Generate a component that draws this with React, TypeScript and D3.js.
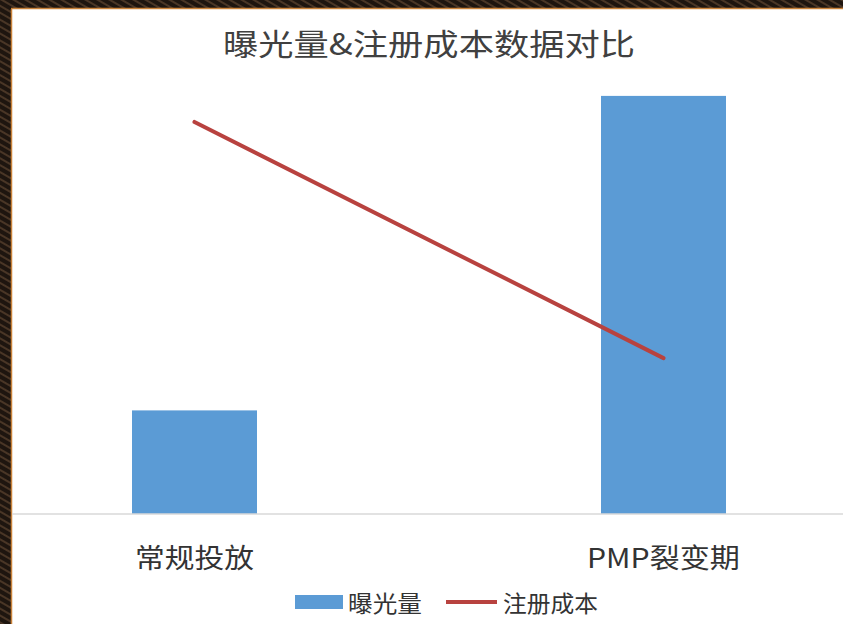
import React from "react";
import * as d3 from "d3";

const categories = ["常规投放", "PMP裂变期"];
const exposure = [2800, 11300];
const regCost = [8.83, 3.51];
const titleText = "曝光量&注册成本数据对比";
const legendLabels = ["曝光量", "注册成本"];

const W = 843;
const H = 624;
const FONT = "'Noto Sans CJK SC', 'Noto Sans', sans-serif";

export default function App() {
  const x = d3.scalePoint<string>().domain(categories).range([194.5, 663.5]);
  const yBar = d3.scaleLinear().domain([0, 12000]).range([514, 70]);
  const yLine = d3.scaleLinear().domain([0, 10]).range([514, 70]);
  const barW = 125;
  const line = d3
    .line<number>()
    .x((_, i) => x(categories[i]) as number)
    .y((d) => yLine(d));

  return (
    <svg
      width={W}
      height={H}
      style={{ position: "absolute", left: 0, top: 0, display: "block" }}
    >
      <defs>
        <pattern id="tex" width="6" height="6" patternUnits="userSpaceOnUse" patternTransform="rotate(-60)">
          <rect width="6" height="6" fill="#1e150f" />
          <rect width="2" height="6" fill="#4a3626" />
        </pattern>
      </defs>
      <rect x={0} y={0} width={W} height={H} fill="url(#tex)" />
      <rect x={12} y={9} width={W - 12} height={H - 9} fill="#ffffff" />
      <line x1={11.5} y1={9} x2={11.5} y2={H} stroke="#c9823a" strokeWidth={1.5} />
      <line x1={11} y1={8.5} x2={W} y2={8.5} stroke="#c9823a" strokeWidth={1.5} />

      <text
        x={429}
        y={41.5}
        textAnchor="middle"
        dominantBaseline="central"
        fontFamily={FONT}
        fontSize={30}
        fill="#404040"
        textLength={412}
        lengthAdjust="spacingAndGlyphs"
      >
        {titleText}
      </text>

      {exposure.map((v, i) => (
        <rect
          key={i}
          x={(x(categories[i]) as number) - barW / 2}
          y={yBar(v)}
          width={barW}
          height={yBar(0) - yBar(v)}
          fill="#5b9bd5"
        />
      ))}

      <line x1={12} y1={514} x2={W} y2={514} stroke="#d9d9d9" strokeWidth={1.5} />

      <path d={line(regCost) || ""} fill="none" stroke="#b8423f" strokeWidth={4} strokeLinecap="round" />

      {categories.map((c, i) => (
        <text
          key={c}
          x={x(c) as number}
          y={556}
          textAnchor="middle"
          dominantBaseline="central"
          fontFamily={FONT}
          fontSize={27}
          fill="#333333"
          textLength={i === 0 ? 119 : 153}
          lengthAdjust="spacingAndGlyphs"
        >
          {c}
        </text>
      ))}

      <rect x={295} y={595} width={48} height={14} fill="#5b9bd5" />
      <text x={348} y={602} dominantBaseline="central" fontFamily={FONT} fontSize={23} fill="#333333" textLength={74} lengthAdjust="spacingAndGlyphs">
        {legendLabels[0]}
      </text>
      <line x1={446} y1={602} x2={497} y2={602} stroke="#b8423f" strokeWidth={4} />
      <text x={503} y={602} dominantBaseline="central" fontFamily={FONT} fontSize={23} fill="#333333" textLength={95} lengthAdjust="spacingAndGlyphs">
        {legendLabels[1]}
      </text>
    </svg>
  );
}
